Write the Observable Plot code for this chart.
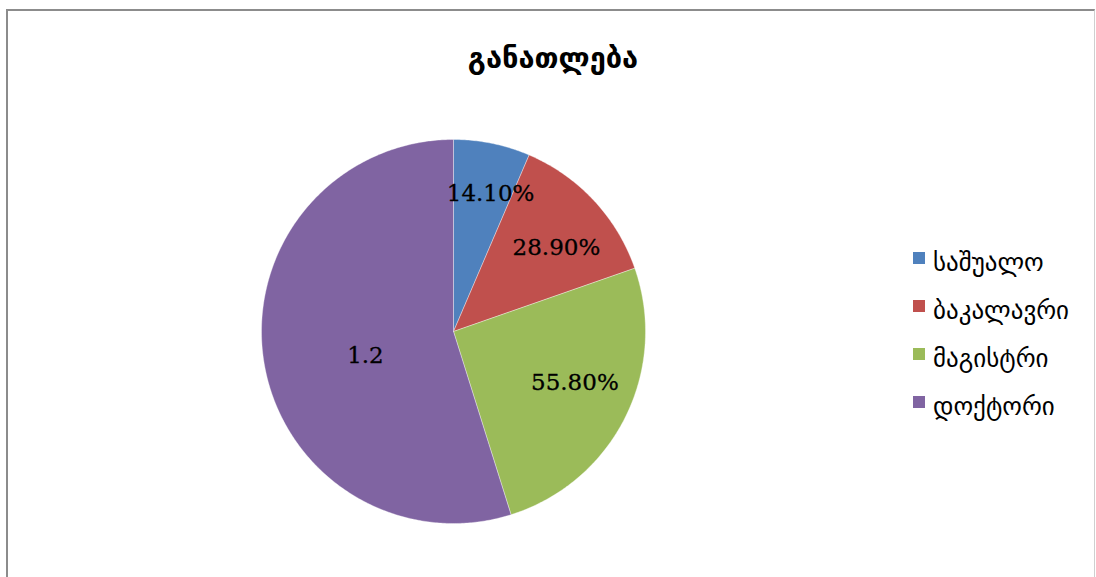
<!DOCTYPE html>
<html>
<head>
<meta charset="utf-8">
<script src="https://cdn.jsdelivr.net/npm/d3@7"></script>
<script src="https://cdn.jsdelivr.net/npm/@observablehq/plot@0.6"></script>
<style>
  html, body { margin: 0; padding: 0; background: #fff; }
  #wrap { position: relative; width: 1096px; height: 577px; overflow: hidden; background: #fff; }
  #frame { position: absolute; left: 6px; top: 9px; width: 1086px; height: 600px;
           border-top: 2px solid #8c8c8c; border-left: 2px solid #8c8c8c; border-right: 1px solid #cfcfcf; }
  #title { position: absolute; left: 0; width: 1106px; top: 41px; text-align: center;
           font-family: "DejaVu Sans", sans-serif; font-weight: bold; font-size: 29px; color: #000; }
  #chart { position: absolute; left: 0; top: 0; }
  #legend { position: absolute; left: 913px; top: 238px; font-family: "DejaVu Sans", sans-serif; font-size: 25px; color: #000; }
  .item { display: flex; align-items: center; height: 48px; }
  .sw { width: 12px; height: 12px; margin-right: 8px; margin-top: -8px; }
</style>
</head>
<body>
<div id="wrap">
  <div id="frame"></div>
  <div id="chart"></div>
  <div id="title">განათლება</div>
  <div id="legend"></div>
</div>
<script>
// ---- data ----
const categories = ["საშუალო", "ბაკალავრი", "მაგისტრი", "დოქტორი"];
const values = [0.141, 0.289, 0.558, 1.2];
const numberFormats = ["0.00%", "0.00%", "0.00%", "General"];
const colors = ["#4F81BD", "#C0504D", "#9BBB59", "#8064A2"];

// ---- layout options ----
const cx = 453, cy = 331, r = 192;
const labelRadius = [0.745, 0.69, 0.685, 0.475];
const labelAngleShift = [0.06, 0.07, -0.07, -0.11]; // radians, best-fit placement

const fmt = (v, f) => f === "0.00%" ? d3.format(".2%")(v) : String(v);

const arcs = d3.pie().sort(null).value(d => d)(values);

// Build slice polygons in unit-circle coordinates (angle 0 at top, clockwise)
const slicePts = [];
arcs.forEach((a, i) => {
  const cat = categories[i];
  slicePts.push({cat, x: 0, y: 0});
  const n = Math.max(2, Math.ceil((a.endAngle - a.startAngle) / 0.01));
  for (let k = 0; k <= n; k++) {
    const t = a.startAngle + (a.endAngle - a.startAngle) * k / n;
    slicePts.push({cat, x: Math.sin(t), y: Math.cos(t)});
  }
  slicePts.push({cat, x: 0, y: 0});
});

const labels = arcs.map((a, i) => {
  const m = (a.startAngle + a.endAngle) / 2 + labelAngleShift[i];
  return {cat: categories[i], x: labelRadius[i] * Math.sin(m), y: labelRadius[i] * Math.cos(m), text: fmt(values[i], numberFormats[i])};
});

const plot = Plot.plot({
  width: 1096,
  height: 577,
  margin: 0,
  x: {domain: [-1, 1], range: [cx - r, cx + r], axis: null},
  y: {domain: [-1, 1], range: [cy + r, cy - r], axis: null},
  color: {domain: categories, range: colors},
  style: {background: "transparent"},
  marks: [
    Plot.line(slicePts, {x: "x", y: "y", z: "cat", fill: "cat", stroke: "#ffffff", strokeWidth: 0.6, strokeOpacity: 0.6, curve: "linear"}),
    Plot.text(labels, {x: "x", y: "y", text: "text", fill: "#000", fontSize: 23, fontFamily: "DejaVu Serif, serif", stroke: "#000", strokeWidth: 0.3})
  ]
});
document.getElementById("chart").appendChild(plot);

const legend = document.getElementById("legend");
categories.forEach((c, i) => {
  const it = document.createElement("div");
  it.className = "item";
  it.innerHTML = `<div class="sw" style="background:${colors[i]}"></div><span>${c}</span>`;
  legend.appendChild(it);
});
</script>
</body>
</html>
